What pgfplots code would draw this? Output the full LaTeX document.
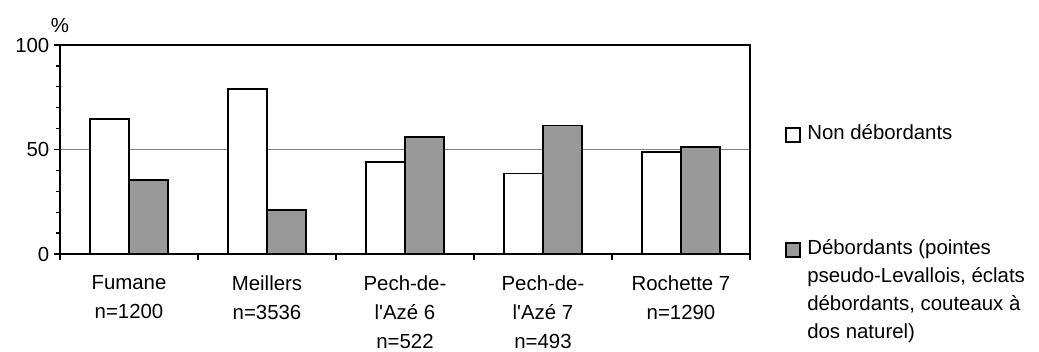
\documentclass[border=0pt]{standalone}
\usepackage{fontspec}
\setmainfont{Liberation Sans}
\usepackage{pgfplots}
\pgfplotsset{compat=1.18}
\definecolor{bargray}{HTML}{999999}
\newcommand{\chartfont}{\fontsize{15.3}{21.75}\selectfont}
\begin{document}
\begin{tikzpicture}
\path[use as bounding box] (-45pt,-73.5pt) rectangle (734.25pt,190.5pt);
\begin{axis}[
  at={(0pt,0pt)}, anchor=south west,
  scale only axis, width=517.5pt, height=156.75pt,
  xmin=-0.5, xmax=4.5, ymin=0, ymax=100,
  axis line style={line width=1.2pt, black},
  xtick pos=lower, ytick pos=left,
  xtick={-0.5,0.5,1.5,2.5,3.5,4.5}, xticklabels={},
  ytick={0,50,100}, minor ytick={10,20,30,40,60,70,80,90},
  tick align=outside, major tick length=4.5pt, minor tick length=3pt,
  tick style={black, line width=1pt},
  ymajorgrids, grid style={gray, line width=0.8pt},
  /pgf/number format/assume math mode=true,
  tick label style={font=\chartfont},
  extra x ticks={0,1,2,3,4},
  extra x tick labels={{Fumane\\n=1200},{Meillers\\n=3536},{Pech-de-\\l\textquotesingle Azé 6\\n=522},{Pech-de-\\l\textquotesingle Azé 7\\n=493},{Rochette 7\\n=1290}},
  extra x tick style={major tick length=0pt, grid=none,
    tick label style={align=center, anchor=north, font=\chartfont, yshift=-12.5pt}},
  clip=false,
]
\addplot[ybar, bar width=0.2826, bar shift=-0.1413, fill=white, draw=black, line width=1.4pt]
  coordinates {(0,64.5) (1,79) (2,44) (3,38.5) (4,49)};
\addplot[ybar, bar width=0.2826, bar shift=0.1413, fill=bargray, draw=black, line width=1.4pt]
  coordinates {(0,35.5) (1,21) (2,56) (3,61.5) (4,51)};
\end{axis}
\node[anchor=base, inner sep=0pt, font=\chartfont] at (0pt,166pt) {\%};
% legend
\draw[line width=1pt, fill=white] (544.5pt,84pt) rectangle (555pt,94.5pt);
\node[anchor=base west, inner sep=0pt, font=\chartfont] at (560.25pt,85.5pt) {Non débordants};
\draw[line width=1pt, fill=bargray] (544.5pt,-2.25pt) rectangle (555pt,8.25pt);
\node[anchor=base west, inner sep=0pt, font=\chartfont] at (560.25pt,-0.75pt) {Débordants (pointes};
\node[anchor=base west, inner sep=0pt, font=\chartfont] at (560.25pt,-21.75pt) {pseudo-Levallois, éclats};
\node[anchor=base west, inner sep=0pt, font=\chartfont] at (560.25pt,-42.75pt) {débordants, couteaux à};
\node[anchor=base west, inner sep=0pt, font=\chartfont] at (560.25pt,-63.75pt) {dos naturel)};
\end{tikzpicture}
\end{document}
